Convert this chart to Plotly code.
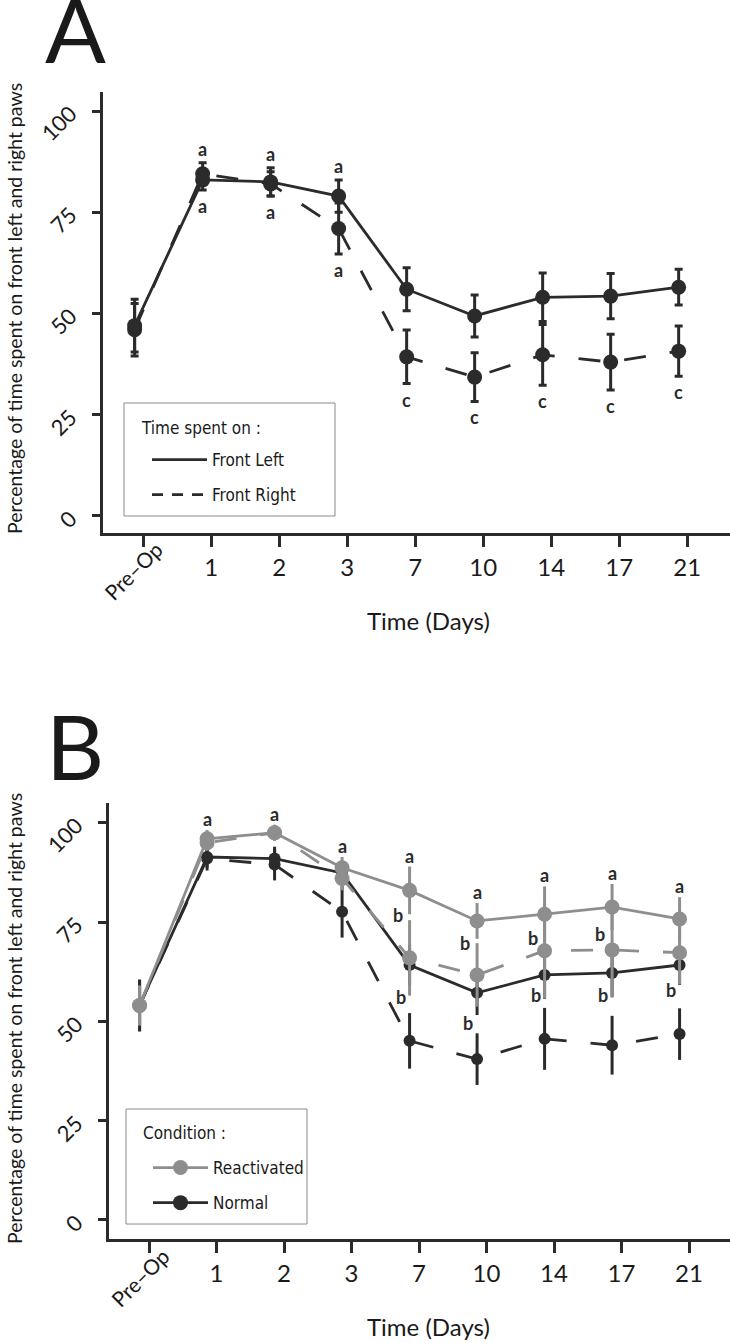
import plotly.graph_objects as go

# ---------------- data ----------------
days = ["Pre–Op", "1", "2", "3", "7", "10", "14", "17", "21"]

# Panel A : time spent on front paws
a_left = [47, 83, 82.5, 79, 56, 49.4, 54, 54.3, 56.5]
a_left_se = [6.5, 2.5, 3.5, 4, 5.3, 5.2, 6, 5.6, 4.4]
a_right = [46, 84.5, 82, 71, 39.3, 34.3, 39.8, 38, 40.7]
a_right_se = [6.5, 2.7, 3, 6.3, 6.6, 6, 7.5, 6.9, 6.2]
a_letters_top = ["", "a", "a", "a", "", "", "", "", ""]
a_letters_bottom = ["", "a", "a", "a", "c", "c", "c", "c", "c"]

# Panel B : condition (Reactivated / Normal) x paw (left solid / right dashed)
b_react_left = [54, 96, 97.5, 88.7, 83, 75.3, 77, 78.8, 75.8]
b_react_left_se = [5, 2.2, 2, 2.7, 6, 4.5, 7, 5.8, 5.5]
b_react_right = [54, 95, 97.5, 86, 66, 61.7, 67.8, 68, 67.3]
b_react_right_se = [5, 2, 2, 3, 9.5, 8, 12, 12, 8]
b_norm_left = [54, 91.4, 91, 87.4, 64.2, 57.2, 61.7, 62.2, 64.2]
b_norm_left_se = [6.5, 2.7, 3, 3, 5, 5.6, 6, 6, 5]
b_norm_right = [54, 91, 89.5, 77.6, 45.1, 40.5, 45.6, 44, 46.8]
b_norm_right_se = [6.5, 3, 4, 6.5, 7, 6.5, 7.8, 7.4, 6.5]
b_letters_a = ["", "a", "a", "a", "a", "a", "a", "a", "a"]
b_letters_upper = ["", "", "", "", "b", "b", "b", "b", ""]
b_upper_y = [None, None, None, None, 76.8, 69.8, 71.0, 72.0, None]
b_letters_lower = ["", "", "", "", "b", "b", "b", "b", "b"]
b_lower_y = [None, None, None, None, 56.2, 49.6, 56.7, 56.7, 57.9]

y_ticks = [0, 25, 50, 75, 100]

legend_a_title = "Time spent on :"
legend_b_title = "Condition :"

# ---------------- style ----------------
DARK = "#2b2b2b"
GRAY = "#8e8e8e"
TXT = "#1a1a1a"
FONT = "Lato, 'Open Sans', sans-serif"
NARROW = "'Liberation Sans Narrow', 'DejaVu Sans Condensed', Lato, sans-serif"
DASH = "22px,24px"
DODGE_A = -0.125
DODGE_B = -0.14
H = 1343
W = 730

idx = list(range(len(days)))
xa = [i + DODGE_A for i in idx]
xb = [i + DODGE_B for i in idx]

fig = go.Figure()


def series(x, y, se, color, dash, msize, axes, capw):
    fig.add_trace(go.Scatter(
        x=x, y=y, mode="lines+markers",
        line=dict(color=color, width=2.8, dash=dash),
        marker=dict(color=color, size=msize),
        error_y=dict(type="data", array=se, visible=True, color=color,
                     thickness=3, width=capw),
        xaxis=axes[0], yaxis=axes[1], showlegend=False, hoverinfo="skip"))


# Panel A
series(xa, a_right, a_right_se, DARK, DASH, 15, ("x", "y"), 4)
series(xa, a_left, a_left_se, DARK, "solid", 15, ("x", "y"), 4)

# Panel B
series(xb, b_norm_right, b_norm_right_se, DARK, DASH, 12, ("x2", "y2"), 0)
series(xb, b_norm_left, b_norm_left_se, DARK, "solid", 12, ("x2", "y2"), 0)
series(xb, b_react_left, b_react_left_se, GRAY, "solid", 15, ("x2", "y2"), 0)
series(xb, b_react_right, b_react_right_se, GRAY, DASH, 15, ("x2", "y2"), 0)

# legend-only traces
fig.add_trace(go.Scatter(x=[None], y=[None], mode="lines", name="Front Left",
                         line=dict(color=DARK, width=2.8), legend="legend",
                         legendgroup="fl", xaxis="x", yaxis="y"))
fig.add_trace(go.Scatter(x=[None], y=[None], mode="lines", name="Front Right",
                         line=dict(color=DARK, width=2.8, dash="11px,9px"), legend="legend",
                         legendgroup="fr", xaxis="x", yaxis="y"))
fig.add_trace(go.Scatter(x=[None], y=[None], mode="lines+markers", name="Reactivated",
                         line=dict(color=GRAY, width=2.8), marker=dict(color=GRAY, size=15),
                         legend="legend2", legendgroup="re", xaxis="x2", yaxis="y2"))
fig.add_trace(go.Scatter(x=[None], y=[None], mode="lines+markers", name="Normal",
                         line=dict(color=DARK, width=2.8), marker=dict(color=DARK, size=15),
                         legend="legend2", legendgroup="no", xaxis="x2", yaxis="y2"))

annotations = []
letter_font = dict(family=FONT, size=18, color=DARK, weight="bold")
CENTER = dict(showarrow=False, xanchor="center", yanchor="middle")

# Panel A letters
for i in idx:
    if a_letters_top[i]:
        top = max(a_left[i] + a_left_se[i], a_right[i] + a_right_se[i])
        annotations.append(dict(x=xa[i], y=top, xref="x", yref="y", text=a_letters_top[i],
                                yshift=14, font=letter_font, **CENTER))
    if a_letters_bottom[i]:
        bot = min(a_left[i] - a_left_se[i], a_right[i] - a_right_se[i])
        annotations.append(dict(x=xa[i], y=bot, xref="x", yref="y", text=a_letters_bottom[i],
                                yshift=-16, font=letter_font, **CENTER))

# Panel B letters
for i in idx:
    if b_letters_a[i]:
        annotations.append(dict(x=xb[i], y=b_react_left[i] + b_react_left_se[i], xref="x2",
                                yref="y2", text=b_letters_a[i], yshift=11,
                                font=letter_font, **CENTER))
    if b_letters_upper[i]:
        annotations.append(dict(x=xb[i], y=b_upper_y[i], xref="x2", yref="y2",
                                text=b_letters_upper[i], xshift=-12,
                                font=letter_font, **CENTER))
    if b_letters_lower[i]:
        annotations.append(dict(x=xb[i], y=b_lower_y[i], xref="x2", yref="y2",
                                text=b_letters_lower[i], xshift=-9,
                                font=letter_font, **CENTER))

# Panel labels
annotations.append(dict(x=75 / W, y=(H - 28) / H, xref="paper", yref="paper", text="A",
                        font=dict(family=FONT, size=90, color=TXT), **CENTER))
annotations.append(dict(x=75 / W, y=(H - 745) / H, xref="paper", yref="paper", text="B",
                        font=dict(family=FONT, size=90, color=TXT), **CENTER))

ytitle = "Percentage of time spent on front left and right paws"
for yc in [(H - 309) / H, (H - 1019) / H]:
    annotations.append(dict(x=14 / W, y=yc, xref="paper", yref="paper", text=ytitle,
                            textangle=-90, font=dict(family=FONT, size=19.5, color=TXT),
                            **CENTER))
for yc in [(H - 620) / H, (H - 1326) / H]:
    annotations.append(dict(x=428 / W, y=yc, xref="paper", yref="paper", text="Time (Days)",
                            font=dict(family=FONT, size=24, color=TXT), **CENTER))

# rotated first category label
annotations.append(dict(x=-0.15, y=(H - 570) / H, xref="x", yref="paper", text=days[0],
                        textangle=-45, font=dict(family=FONT, size=21, color=TXT), **CENTER))
annotations.append(dict(x=-0.14, y=(H - 1277) / H, xref="x2", yref="paper", text=days[0],
                        textangle=-45, font=dict(family=FONT, size=21, color=TXT), **CENTER))

# legend titles
annotations.append(dict(x=139 / W, y=(H - 428) / H, xref="paper", yref="paper",
                        text=legend_a_title, showarrow=False, xanchor="left", yanchor="middle",
                        font=dict(family=NARROW, size=17, color=TXT)))
annotations.append(dict(x=141 / W, y=(H - 1133) / H, xref="paper", yref="paper",
                        text=legend_b_title, showarrow=False, xanchor="left", yanchor="middle",
                        font=dict(family=NARROW, size=17, color=TXT)))

# legend frames
shapes = [
    dict(type="rect", xref="paper", yref="paper", x0=124 / W, x1=335 / W,
         y0=(H - 516) / H, y1=(H - 403) / H, line=dict(color="#8a8a8a", width=1),
         fillcolor="rgba(255,255,255,0)", layer="below"),
    dict(type="rect", xref="paper", yref="paper", x0=126 / W, x1=307 / W,
         y0=(H - 1224) / H, y1=(H - 1109) / H, line=dict(color="#8a8a8a", width=1),
         fillcolor="rgba(255,255,255,0)", layer="below"),
]

xaxis_common = dict(tickmode="array", tickvals=idx, ticktext=[""] + days[1:],
                    showline=True, linecolor=DARK, linewidth=3, ticks="outside",
                    ticklen=11, tickwidth=2.5, tickcolor=DARK, showgrid=False, zeroline=False,
                    automargin=False,
                    tickfont=dict(family=FONT, size=24, color=TXT))
yaxis_common = dict(tickmode="array", tickvals=y_ticks, showline=True, linecolor=DARK,
                    linewidth=3, ticks="outside", ticklen=8, tickwidth=2.5, tickcolor=DARK,
                    showgrid=False, zeroline=False, tickangle=-45, ticklabelstandoff=17,
                    automargin=False,
                    tickfont=dict(family=FONT, size=22, color=TXT))

legend_common = dict(xanchor="left", yanchor="top", borderwidth=0,
                     bgcolor="rgba(255,255,255,0)",
                     font=dict(family=NARROW, size=17, color=TXT),
                     tracegroupgap=10, itemwidth=55)

fig.update_layout(
    width=W, height=H,
    margin=dict(l=0, r=0, t=0, b=0),
    paper_bgcolor="white", plot_bgcolor="white",
    xaxis=dict(domain=[103 / W, 1], range=[-0.59, 8.63], anchor="y", **xaxis_common),
    yaxis=dict(domain=[(H - 533) / H, (H - 92) / H], range=[-4.2, 104.7],
               anchor="x", **yaxis_common),
    xaxis2=dict(domain=[109 / W, 1], range=[-0.593, 8.607], anchor="y2", **xaxis_common),
    yaxis2=dict(domain=[(H - 1239) / H, (H - 803) / H], range=[-4.8, 105.0],
                anchor="x2", **yaxis_common),
    legend=dict(x=147 / W, y=(H - 442) / H, **legend_common),
    legend2=dict(x=148 / W, y=(H - 1150) / H, **legend_common),
    annotations=annotations,
    shapes=shapes,
)

fig.write_html("out.html",
               config={"displayModeBar": False},
               post_script="document.body.style.margin='0';"
                           "document.body.style.overflow='hidden';")
